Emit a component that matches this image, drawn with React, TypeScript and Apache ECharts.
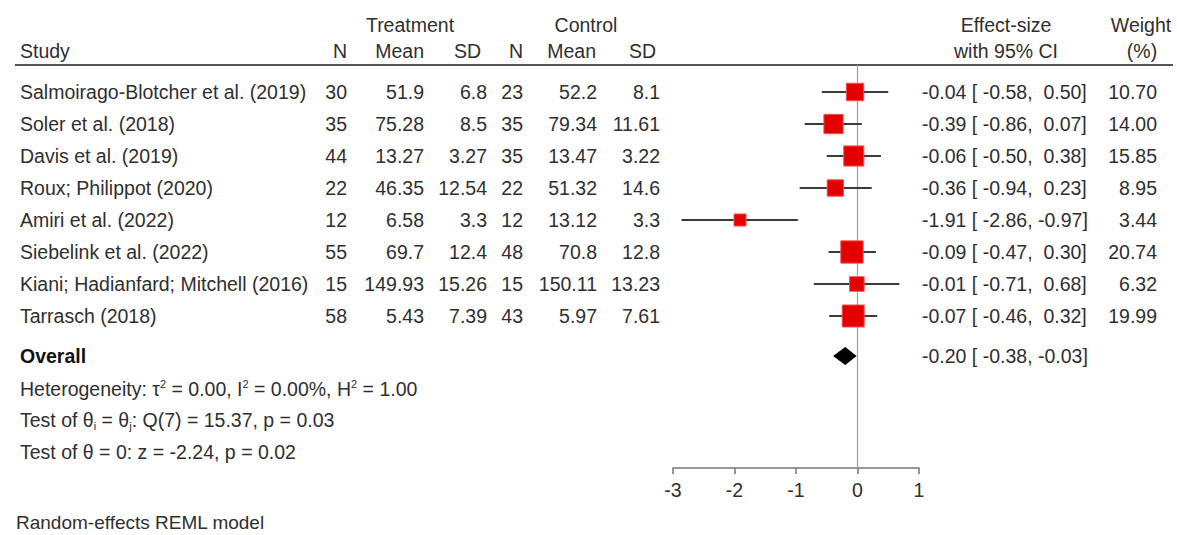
import React, { useEffect, useRef } from "react";
import * as echarts from "echarts";

// ---------- data ----------
const studies = [
  "Salmoirago-Blotcher et al. (2019)",
  "Soler et al. (2018)",
  "Davis et al. (2019)",
  "Roux; Philippot (2020)",
  "Amiri et al. (2022)",
  "Siebelink et al. (2022)",
  "Kiani; Hadianfard; Mitchell (2016)",
  "Tarrasch (2018)",
];
const nTreat = [30, 35, 44, 22, 12, 55, 15, 58];
const meanTreat = [51.9, 75.28, 13.27, 46.35, 6.58, 69.7, 149.93, 5.43];
const sdTreat = [6.8, 8.5, 3.27, 12.54, 3.3, 12.4, 15.26, 7.39];
const nCtrl = [23, 35, 35, 22, 12, 48, 15, 43];
const meanCtrl = [52.2, 79.34, 13.47, 51.32, 13.12, 70.8, 150.11, 5.97];
const sdCtrl = [8.1, 11.61, 3.22, 14.6, 3.3, 12.8, 13.23, 7.61];
const effect = [-0.04, -0.39, -0.06, -0.36, -1.91, -0.09, -0.01, -0.07];
const ciLow = [-0.58, -0.86, -0.5, -0.94, -2.86, -0.47, -0.71, -0.46];
const ciHigh = [0.5, 0.07, 0.38, 0.23, -0.97, 0.3, 0.68, 0.32];
const weights = [10.7, 14.0, 15.85, 8.95, 3.44, 20.74, 6.32, 19.99];
const overall = [-0.2, -0.38, -0.03]; // effect, low, high
const xAxisRange = [-3, 1];
const overallLabel = "Overall";
const statLines = [
  "Heterogeneity: τ{sup|2} = 0.00, I{sup|2} = 0.00%, H{sup|2} = 1.00",
  "Test of θ{sub|i} = θ{sub|j}: Q(7) = 15.37, p = 0.03",
  "Test of θ = 0: z = -2.24, p = 0.02",
];
const footnote = "Random-effects REML model";
const groupHeaders = ["Treatment", "Control", "Effect-size", "Weight"];
const colHeaders = ["Study", "N", "Mean", "SD", "N", "Mean", "SD", "with 95% CI", "(%)"];

// ---------- layout ----------
const W = 1177;
const H = 535;
const ROW0 = 92; // pixel of first study row
const ROWH = 32;
const FONT = '"Liberation Sans", Arial, Helvetica, sans-serif';
const FS = 19.5;
const TEXT = "#2f2f2f";
const AXIS_Y = 468;
const TOP_LINE = 65;
const rowOf = (px: number) => (px - ROW0) / ROWH;

type Align = "left" | "right" | "center";
type Cell = { x: number; y: number; text: string; align: Align; bold?: boolean; size?: number };

const NBSP = "\u00A0";
const f2 = (v: number) => v.toFixed(2);
const pad = (s: string, n: number) => (s.length >= n ? s : NBSP.repeat(n - s.length) + s);
const esText = (e: number, l: number, h: number) =>
  `${f2(e)} [${pad(f2(l), 6)},${pad(f2(h), 6)}]`;

const cells: Cell[] = [];
const gy1 = rowOf(25);
const gy2 = rowOf(51);
const groupX: [number, Align][] = [
  [410, "center"],
  [586, "center"],
  [1006, "center"],
  [1141, "center"],
];
groupHeaders.forEach((t, i) => cells.push({ x: groupX[i][0], y: gy1, text: t, align: groupX[i][1] }));
const headX: [number, Align][] = [
  [20, "left"],
  [347, "right"],
  [424, "right"],
  [481, "right"],
  [523, "right"],
  [596, "right"],
  [656, "right"],
  [1006, "center"],
  [1142, "center"],
];
colHeaders.forEach((t, i) => cells.push({ x: headX[i][0], y: gy2, text: t, align: headX[i][1] }));

const colX = { study: 20, nT: 347, mT: 424, sT: 487, nC: 523, mC: 597, sC: 660, es: 922, w: 1157 };
studies.forEach((s, i) => {
  cells.push({ x: colX.study, y: i, text: s, align: "left" });
  cells.push({ x: colX.nT, y: i, text: String(nTreat[i]), align: "right" });
  cells.push({ x: colX.mT, y: i, text: String(meanTreat[i]), align: "right" });
  cells.push({ x: colX.sT, y: i, text: String(sdTreat[i]), align: "right" });
  cells.push({ x: colX.nC, y: i, text: String(nCtrl[i]), align: "right" });
  cells.push({ x: colX.mC, y: i, text: String(meanCtrl[i]), align: "right" });
  cells.push({ x: colX.sC, y: i, text: String(sdCtrl[i]), align: "right" });
  cells.push({ x: colX.es, y: i, text: esText(effect[i], ciLow[i], ciHigh[i]), align: "left" });
  cells.push({ x: colX.w, y: i, text: f2(weights[i]), align: "right" });
});
const overallRow = rowOf(356);
cells.push({ x: colX.study, y: overallRow, text: overallLabel, align: "left", bold: true });
cells.push({ x: colX.es, y: overallRow, text: esText(overall[0], overall[1], overall[2]), align: "left" });
const statRows = [rowOf(389), rowOf(420), rowOf(452)];
statLines.forEach((t, i) => cells.push({ x: colX.study, y: statRows[i], text: t, align: "left" }));
cells.push({ x: 16, y: rowOf(522), text: footnote, align: "left", size: 19 });

const RICH = {
  sup: { fontSize: 11, fontFamily: FONT, fill: TEXT, verticalAlign: "top", lineHeight: 22 },
  sub: { fontSize: 11, fontFamily: FONT, fill: TEXT, verticalAlign: "bottom", lineHeight: 22 },
};

export default function App() {
  const ref = useRef<HTMLDivElement>(null);
  useEffect(() => {
    document.body.style.margin = "0";
    if (!ref.current) return;
    const chart = echarts.init(ref.current, null, { renderer: "svg" });
    const yMinF = rowOf(TOP_LINE);
    const yMaxF = rowOf(AXIS_Y);
    const option: any = {
      animation: false,
      backgroundColor: "#ffffff",
      grid: [
        { left: 0, top: 0, width: W, height: H },
        { left: 673, top: TOP_LINE, width: 246, height: AXIS_Y - TOP_LINE },
      ],
      xAxis: [
        { type: "value", gridIndex: 0, min: 0, max: W, show: false },
        {
          type: "value",
          gridIndex: 1,
          min: xAxisRange[0],
          max: xAxisRange[1],
          interval: 1,
          axisLine: { show: true, onZero: false, lineStyle: { color: "#777", width: 1.5 } },
          axisTick: { show: true, length: 6, inside: false, lineStyle: { color: "#777", width: 1.5 } },
          axisLabel: { fontSize: FS, fontFamily: FONT, color: TEXT, margin: 12 },
          splitLine: { show: false },
        },
      ],
      yAxis: [
        { type: "value", gridIndex: 0, min: rowOf(0), max: rowOf(H), inverse: true, show: false },
        { type: "value", gridIndex: 1, min: yMinF, max: yMaxF, inverse: true, show: false },
      ],
      graphic: [
        {
          type: "line",
          shape: { x1: 15, y1: TOP_LINE, x2: 1173, y2: TOP_LINE },
          style: { stroke: "#555", lineWidth: 2 },
        },
      ],
      series: [
        {
          type: "line",
          xAxisIndex: 1,
          yAxisIndex: 1,
          data: [
            [0, yMinF],
            [0, yMaxF],
          ],
          symbol: "none",
          lineStyle: { color: "#a0a0a0", width: 1.2 },
          z: 1,
          silent: true,
        },
        {
          type: "custom",
          xAxisIndex: 1,
          yAxisIndex: 1,
          clip: false,
          z: 3,
          data: effect.map((e, i) => [e, i, ciLow[i], ciHigh[i], weights[i]]),
          renderItem: (_p: any, api: any) => {
            const y = api.value(1);
            const c = api.coord([api.value(0), y]);
            const l = api.coord([api.value(2), y]);
            const h = api.coord([api.value(3), y]);
            const s = 5 + 3.8 * Math.sqrt(api.value(4));
            return {
              type: "group",
              children: [
                {
                  type: "line",
                  shape: { x1: l[0], y1: l[1], x2: h[0], y2: h[1] },
                  style: { stroke: "#3a3a3a", lineWidth: 2 },
                },
                {
                  type: "rect",
                  shape: { x: c[0] - s / 2, y: c[1] - s / 2, width: s, height: s },
                  style: { fill: "#e40000", stroke: "#f25050", lineWidth: 1 },
                },
              ],
            };
          },
        },
        {
          type: "custom",
          xAxisIndex: 1,
          yAxisIndex: 1,
          clip: false,
          z: 3,
          data: [[overall[0], overallRow, overall[1], overall[2]]],
          renderItem: (_p: any, api: any) => {
            const y = api.value(1);
            const c = api.coord([api.value(0), y]);
            const l = api.coord([api.value(2), y]);
            const h = api.coord([api.value(3), y]);
            const hh = 9;
            return {
              type: "polygon",
              shape: {
                points: [
                  [l[0] - 1, c[1]],
                  [c[0], c[1] - hh],
                  [h[0] + 1, c[1]],
                  [c[0], c[1] + hh],
                ],
              },
              style: { fill: "#000" },
            };
          },
        },
        {
          type: "custom",
          xAxisIndex: 0,
          yAxisIndex: 0,
          clip: false,
          z: 4,
          silent: true,
          data: cells.map((c, i) => [c.x, c.y, i]),
          renderItem: (_p: any, api: any) => {
            const cell = cells[api.value(2)];
            const p = api.coord([api.value(0), api.value(1)]);
            return {
              type: "text",
              x: p[0],
              y: p[1],
              style: {
                text: cell.text,
                fill: cell.bold ? "#111" : TEXT,
                fontSize: cell.size ?? FS,
                fontFamily: FONT,
                fontWeight: cell.bold ? "bold" : "normal",
                align: cell.align,
                verticalAlign: "middle",
                rich: RICH,
              },
            };
          },
        },
      ],
    };
    chart.setOption(option);
    return () => chart.dispose();
  }, []);
  return <div ref={ref} style={{ width: W, height: H, position: "fixed", left: 0, top: 0 }} />;
}
